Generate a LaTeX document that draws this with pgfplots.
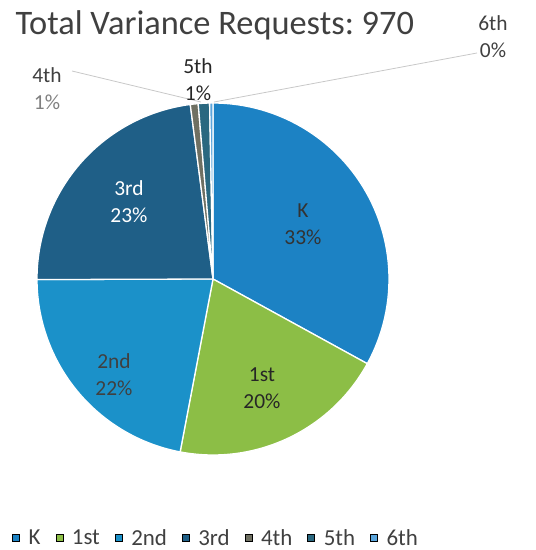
\documentclass[border=0pt]{standalone}
\usepackage{pgfplots}
\usepackage{pgfplotstable}
\pgfplotsset{compat=1.18}
\usepackage{fontspec}
\setmainfont{Carlito}

\definecolor{cK}{HTML}{1C82C4}
\definecolor{c1}{HTML}{8CBE46}
\definecolor{c2}{HTML}{1B91C9}
\definecolor{c3}{HTML}{1F5F87}
\definecolor{c4}{HTML}{6F7062}
\definecolor{c5}{HTML}{2A6880}
\definecolor{c6}{HTML}{5AA5DC}
\definecolor{txt}{HTML}{404040}
\definecolor{lead}{HTML}{C8C8C8}

% variance requests by grade (total 970)
\pgfplotstableread{
grade count
K     320
1st   194
2nd   213
3rd   223
4th   7
5th   10
6th   3
}\pietable
\pgfplotstablecreatecol[expr accum={\pgfmathaccuma+\thisrow{count}}{0}]{cum}\pietable

% one wedge, clockwise from 12 o'clock: row, colour
\newcommand\piewedge[2]{%
  \pgfplotstablegetelem{#1}{cum}\of\pietable
  \pgfmathsetmacro\wb{(\pgfplotsretval/970)*360}%
  \pgfplotstablegetelem{#1}{count}\of\pietable
  \pgfmathsetmacro\wa{\wb-(\pgfplotsretval/970)*360}%
  \edef\next{\noexpand\addplot[fill=#2, draw=white, line width=1.3pt,
      line join=round, forget plot, domain=\wa:\wb, samples=60]
    ({213+176*sin(x)},{271+176*cos(x)}) -- (213,271) -- cycle;}%
  \next}

\begin{document}
\begin{tikzpicture}
\path[use as bounding box] (0,0) rectangle (536bp,550bp);
\begin{axis}[
    at={(0,0)}, anchor=south west,
    scale only axis, width=536bp, height=550bp,
    xmin=0, xmax=536, ymin=0, ymax=550,
    hide axis, clip=false,
    legend columns=-1,
    legend image code/.code={\fill[#1] (0bp,-3.5bp) rectangle (7bp,3.5bp);},
    legend style={at={(axis cs:12,12)}, anchor=west, draw=none, fill=none,
        inner sep=0pt, nodes={inner sep=0pt},
        font=\fontsize{23}{26}\selectfont\color{txt},
        /tikz/every odd column/.append style={column sep=9bp},
        /tikz/every even column/.append style={column sep=15bp}},
  ]
  \piewedge{0}{cK}
  \piewedge{1}{c1}
  \piewedge{2}{c2}
  \piewedge{3}{c3}
  \piewedge{4}{c4}
  \piewedge{5}{c5}
  \piewedge{6}{c6}

  % leader lines
  \addplot[lead, line width=0.8pt, forget plot] coordinates {(72,479) (201,448)};
  \addplot[lead, line width=0.8pt, forget plot] coordinates {(477,497) (214,448)};

  \addlegendimage{fill=cK}\addlegendentry{K}
  \addlegendimage{fill=c1}\addlegendentry{1st}
  \addlegendimage{fill=c2}\addlegendentry{2nd}
  \addlegendimage{fill=c3}\addlegendentry{3rd}
  \addlegendimage{fill=c4}\addlegendentry{4th}
  \addlegendimage{fill=c5}\addlegendentry{5th}
  \addlegendimage{fill=c6}\addlegendentry{6th}

  \node[anchor=base west, font=\fontsize{34.5}{40}\selectfont\frenchspacing, text=txt]
    at (axis cs:12,515) {Total Variance Requests: 970};

  \begin{scope}[every node/.style={align=center, font=\fontsize{21.5}{27}\selectfont}]
    \node[text=txt!80!black] at (axis cs:303,326) {K\\33\%};
    \node[text=black!85] at (axis cs:262,161.5) {1st\\20\%};
    \node[text=txt] at (axis cs:114,175) {2nd\\22\%};
    \node[text=white] at (axis cs:129,348.5) {3rd\\23\%};
    \node[text=txt] at (axis cs:47,461.5) {4th\\\textcolor{gray}{1\%}};
    \node[text=black!85] at (axis cs:198,470.5) {5th\\1\%};
    \node[text=txt] at (axis cs:493,513) {6th\\0\%};
  \end{scope}
\end{axis}
\end{tikzpicture}
\end{document}
